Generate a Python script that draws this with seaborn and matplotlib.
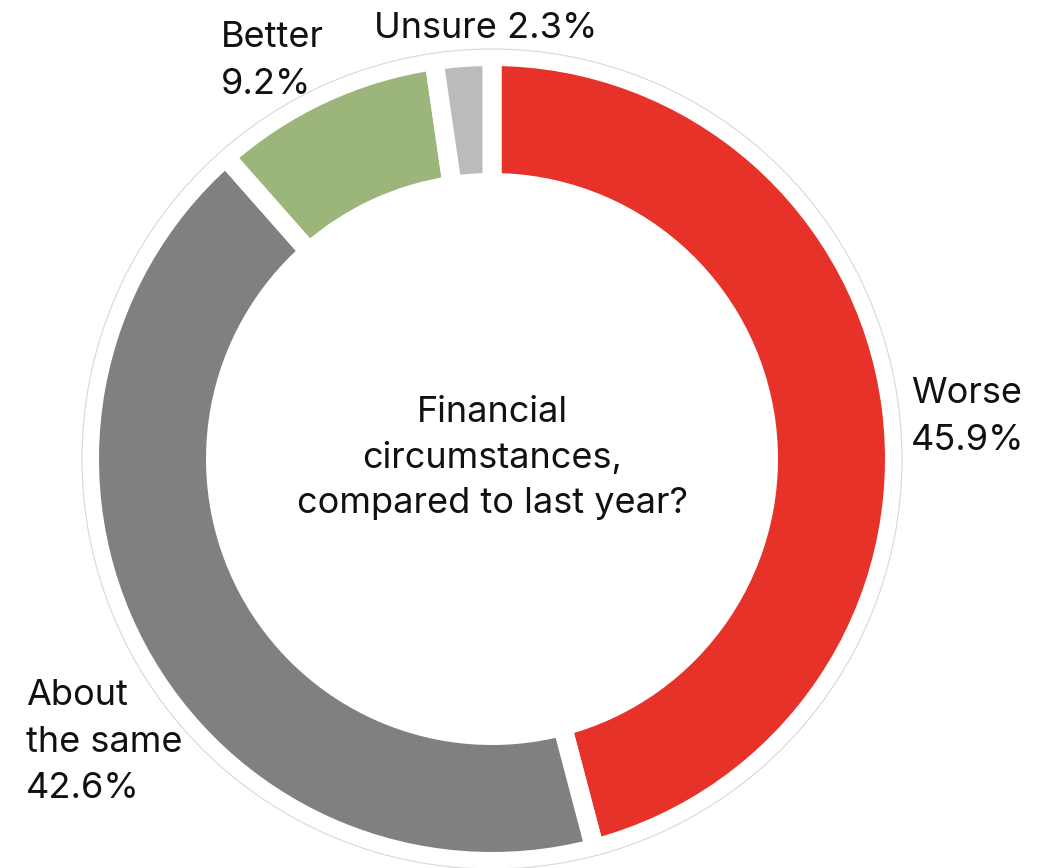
import matplotlib
matplotlib.use("Agg")
import matplotlib.pyplot as plt
import seaborn as sns

# ---- data ----
categories = ["Worse", "About the same", "Better", "Unsure"]
values = [45.9, 42.6, 9.2, 2.3]
colors = ["#E63228", "#7F807F", "#9BB57A", "#BBBBBB"]
label_lines = [["Worse", "45.9%"],
               ["About", "the same", "42.6%"],
               ["Better", "9.2%"],
               ["Unsure 2.3%"]]
center_lines = ["Financial", "circumstances,", "compared to last year?"]

sns.set_theme(style="white")
plt.rcParams['font.family'] = ['Inter', 'DejaVu Sans']

W, H = 1038, 868
fig = plt.figure(figsize=(W / 100, H / 100), dpi=100)
ax = fig.add_axes([0, 0, 1, 1])
ax.set_xlim(0, W)
ax.set_ylim(0, H)
ax.set_aspect('equal')
ax.axis('off')

cx, cy = 492, H - 459
gap_px = 19
R = 393 + gap_px / 2
r = 286 - gap_px / 2
ax.pie(values, colors=colors, startangle=90, counterclock=False,
       radius=R, center=(cx, cy), frame=True,
       wedgeprops=dict(width=R - r, edgecolor='white', linewidth=gap_px * 72 / 100))
ax.set_xlim(0, W)
ax.set_ylim(0, H)
ax.axis('off')

ring = plt.Circle((cx, cy), 410, fill=False, edgecolor='#d8d8d8', linewidth=0.8, zorder=5)
ax.add_patch(ring)

fs = 26
step = 46.5
label_pos = [(911, 403), (26, 705), (221, 47), (374, 38)]
for lines, (x, y) in zip(label_lines, label_pos):
    for i, t in enumerate(lines):
        ax.text(x, H - (y + i * step), t, ha='left', va='baseline', fontsize=fs, color='#111111')

for i, t in enumerate(center_lines):
    ax.text(492, H - (422 + i * 45.5), t, ha='center', va='baseline', fontsize=fs, color='#111111')

fig.savefig("out.png", dpi=100, facecolor='white')
